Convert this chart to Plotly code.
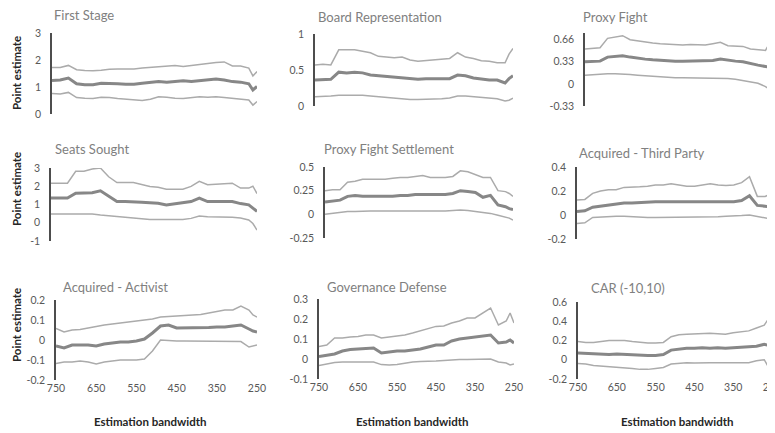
import plotly.graph_objects as go

bandwidth = [750, 730, 710, 690, 670, 650, 630, 610, 590, 570, 550, 530, 510, 490,
             470, 450, 430, 410, 390, 370, 350, 330, 310, 290, 270, 260, 250]
x_ticks = [750, 650, 550, 450, 350, 250]

# First Stage
fs_hi = [1.72, 1.72, 1.80, 1.64, 1.61, 1.60, 1.62, 1.66, 1.67, 1.67, 1.67, 1.70, 1.72, 1.76,
         1.76, 1.80, 1.76, 1.80, 1.82, 1.86, 1.91, 1.93, 1.78, 1.78, 1.70, 1.41, 1.57]
fs_est = [1.24, 1.26, 1.33, 1.12, 1.08, 1.08, 1.14, 1.14, 1.12, 1.10, 1.10, 1.14, 1.16, 1.20,
          1.18, 1.20, 1.23, 1.20, 1.24, 1.26, 1.30, 1.26, 1.20, 1.18, 1.12, 0.89, 1.02]
fs_lo = [0.76, 0.74, 0.80, 0.61, 0.58, 0.57, 0.62, 0.61, 0.57, 0.55, 0.52, 0.50, 0.55, 0.64,
         0.62, 0.58, 0.57, 0.61, 0.64, 0.62, 0.64, 0.61, 0.58, 0.55, 0.52, 0.33, 0.46]

# Board Representation
br_hi = [0.57, 0.58, 0.57, 0.78, 0.78, 0.78, 0.76, 0.74, 0.69, 0.68, 0.67, 0.68, 0.64, 0.62,
         0.63, 0.64, 0.65, 0.66, 0.74, 0.68, 0.66, 0.63, 0.62, 0.60, 0.60, 0.72, 0.80]
br_est = [0.36, 0.36, 0.37, 0.47, 0.46, 0.47, 0.46, 0.43, 0.42, 0.41, 0.40, 0.39, 0.38, 0.37,
          0.38, 0.38, 0.37, 0.38, 0.43, 0.42, 0.39, 0.37, 0.36, 0.36, 0.32, 0.38, 0.42]
br_lo = [0.13, 0.13, 0.14, 0.15, 0.15, 0.16, 0.15, 0.14, 0.13, 0.12, 0.10, 0.09, 0.09, 0.09,
         0.09, 0.10, 0.10, 0.11, 0.14, 0.14, 0.13, 0.11, 0.10, 0.10, 0.07, 0.08, 0.11]

# Proxy Fight
pf_hi = [0.52, 0.53, 0.54, 0.68, 0.70, 0.72, 0.66, 0.64, 0.62, 0.61, 0.60, 0.59, 0.58, 0.58,
         0.59, 0.59, 0.58, 0.60, 0.62, 0.57, 0.56, 0.56, 0.52, 0.51, 0.50, 0.60, 0.50]
pf_est = [0.33, 0.33, 0.34, 0.40, 0.41, 0.42, 0.40, 0.38, 0.37, 0.36, 0.35, 0.345, 0.34, 0.34,
          0.34, 0.34, 0.34, 0.35, 0.37, 0.35, 0.34, 0.33, 0.30, 0.28, 0.26, 0.25, 0.20]
pf_lo = [0.13, 0.14, 0.15, 0.15, 0.15, 0.15, 0.14, 0.13, 0.12, 0.11, 0.10, 0.09, 0.09, 0.09,
         0.09, 0.09, 0.09, 0.09, 0.09, 0.08, 0.07, 0.05, 0.03, 0.01, -0.04, -0.08, -0.17]

# Seats Sought
ss_hi = [2.17, 2.17, 2.17, 2.82, 2.82, 2.95, 3.00, 2.52, 2.20, 2.20, 2.20, 2.10, 1.99, 1.95,
         1.84, 1.84, 1.84, 1.99, 2.27, 2.08, 2.10, 2.15, 2.17, 1.90, 1.90, 2.00, 1.60]
ss_est = [1.35, 1.35, 1.35, 1.62, 1.62, 1.65, 1.75, 1.44, 1.16, 1.16, 1.16, 1.12, 1.10, 1.07,
          0.98, 1.05, 1.10, 1.16, 1.35, 1.16, 1.16, 1.16, 1.16, 1.05, 0.98, 0.80, 0.62]
ss_lo = [0.48, 0.48, 0.48, 0.47, 0.48, 0.48, 0.42, 0.38, 0.30, 0.26, 0.22, 0.20, 0.18, 0.18,
         0.17, 0.18, 0.18, 0.24, 0.37, 0.33, 0.33, 0.33, 0.30, 0.26, 0.15, -0.04, -0.40]

# Proxy Fight Settlement
pfs_hi = [0.25, 0.26, 0.26, 0.34, 0.35, 0.37, 0.37, 0.37, 0.37, 0.38, 0.39, 0.39, 0.40, 0.41,
          0.39, 0.39, 0.39, 0.40, 0.46, 0.45, 0.42, 0.39, 0.39, 0.25, 0.24, 0.22, 0.19]
pfs_est = [0.13, 0.14, 0.15, 0.19, 0.20, 0.19, 0.19, 0.19, 0.19, 0.19, 0.20, 0.20, 0.21, 0.21,
           0.21, 0.21, 0.21, 0.22, 0.25, 0.24, 0.23, 0.18, 0.20, 0.10, 0.08, 0.06, 0.05]
pfs_lo = [0.00, 0.01, 0.02, 0.03, 0.03, 0.035, 0.035, 0.035, 0.035, 0.03, 0.03, 0.03, 0.035, 0.035,
          0.035, 0.035, 0.035, 0.04, 0.045, 0.04, 0.03, 0.02, 0.01, -0.01, -0.03, -0.04, -0.06]

# Acquired - Third Party
tp_hi = [0.125, 0.13, 0.18, 0.20, 0.21, 0.21, 0.23, 0.23, 0.235, 0.24, 0.25, 0.25, 0.26, 0.25,
         0.24, 0.24, 0.25, 0.26, 0.25, 0.245, 0.25, 0.27, 0.32, 0.155, 0.155, 0.17, 0.13]
tp_est = [0.03, 0.035, 0.065, 0.075, 0.085, 0.09, 0.10, 0.10, 0.105, 0.11, 0.11, 0.11, 0.11, 0.11,
          0.105, 0.105, 0.11, 0.11, 0.11, 0.11, 0.11, 0.12, 0.16, 0.08, 0.075, 0.07, 0.055]
tp_lo = [-0.07, -0.065, -0.02, -0.015, -0.01, -0.01, -0.01, -0.015, -0.02, -0.02, -0.02, -0.02, -0.02, -0.02,
         -0.02, -0.02, -0.02, -0.015, -0.015, -0.01, -0.01, -0.005, 0.0, -0.01, -0.02, -0.03, -0.04]

# Acquired - Activist
aa_hi = [0.058, 0.04, 0.05, 0.052, 0.06, 0.068, 0.075, 0.08, 0.085, 0.09, 0.095, 0.10, 0.105, 0.115,
         0.117, 0.118, 0.12, 0.125, 0.128, 0.135, 0.14, 0.15, 0.15, 0.17, 0.15, 0.125, 0.115]
aa_est = [-0.03, -0.04, -0.025, -0.025, -0.025, -0.03, -0.02, -0.015, -0.01, -0.01, -0.005, 0.005, 0.035, 0.07,
          0.075, 0.06, 0.06, 0.06, 0.06, 0.062, 0.065, 0.065, 0.07, 0.075, 0.055, 0.045, 0.04]
aa_lo = [-0.117, -0.11, -0.11, -0.105, -0.11, -0.12, -0.11, -0.105, -0.10, -0.10, -0.10, -0.095, -0.055, 0.0,
         -0.003, -0.005, -0.005, -0.005, -0.005, -0.005, -0.005, -0.005, -0.005, -0.008, -0.035, -0.03, -0.025]

# Governance Defense
gd_hi = [0.063, 0.07, 0.105, 0.105, 0.11, 0.113, 0.12, 0.12, 0.105, 0.11, 0.115, 0.12, 0.13, 0.14,
         0.15, 0.163, 0.165, 0.18, 0.19, 0.205, 0.205, 0.23, 0.255, 0.17, 0.19, 0.23, 0.18]
gd_est = [0.013, 0.02, 0.025, 0.04, 0.047, 0.05, 0.052, 0.055, 0.03, 0.035, 0.04, 0.04, 0.045, 0.05,
          0.06, 0.07, 0.07, 0.09, 0.10, 0.105, 0.11, 0.115, 0.12, 0.08, 0.085, 0.095, 0.08]
gd_lo = [-0.032, -0.025, -0.018, -0.015, -0.015, -0.015, -0.015, -0.015, -0.028, -0.03, -0.028, -0.02, -0.015, -0.012,
         -0.012, -0.01, -0.008, -0.005, -0.003, -0.003, -0.003, -0.003, 0.0, -0.015, -0.02, -0.03, -0.025]

# CAR (-10,10)
car_hi = [0.19, 0.18, 0.18, 0.19, 0.20, 0.20, 0.20, 0.19, 0.18, 0.175, 0.175, 0.18, 0.24, 0.26,
          0.265, 0.27, 0.275, 0.275, 0.27, 0.265, 0.28, 0.29, 0.30, 0.33, 0.36, 0.42, 0.32]
car_est = [0.07, 0.065, 0.06, 0.06, 0.055, 0.06, 0.055, 0.05, 0.045, 0.045, 0.045, 0.055, 0.10, 0.11,
           0.12, 0.12, 0.125, 0.12, 0.125, 0.12, 0.125, 0.13, 0.14, 0.14, 0.16, 0.15, 0.08]
car_lo = [-0.04, -0.045, -0.06, -0.065, -0.07, -0.075, -0.085, -0.09, -0.10, -0.10, -0.09, -0.08, -0.045, -0.035,
          -0.03, -0.035, -0.03, -0.03, -0.03, -0.03, -0.03, -0.035, -0.03, -0.01, 0.0, -0.07, -0.17]

titles = ["First Stage", "Board Representation", "Proxy Fight",
          "Seats Sought", "Proxy Fight Settlement", "Acquired - Third Party",
          "Acquired - Activist", "Governance Defense", "CAR (-10,10)"]
series = [(fs_lo, fs_est, fs_hi), (br_lo, br_est, br_hi), (pf_lo, pf_est, pf_hi),
          (ss_lo, ss_est, ss_hi), (pfs_lo, pfs_est, pfs_hi), (tp_lo, tp_est, tp_hi),
          (aa_lo, aa_est, aa_hi), (gd_lo, gd_est, gd_hi), (car_lo, car_est, car_hi)]
y_ticks = [[0, 1, 2, 3], [0, 0.5, 1], [-0.33, 0, 0.33, 0.66],
           [-1, 0, 1, 2, 3], [-0.25, 0, 0.25, 0.5], [-0.2, 0, 0.2, 0.4],
           [-0.2, -0.1, 0, 0.1, 0.2], [-0.1, 0, 0.1, 0.2, 0.3], [-0.2, 0, 0.2, 0.4, 0.6]]
y_ticktext = [["0", "1", "2", "3"], ["0", "0.5", "1"], ["-0.33", "0", "0.33", "0.66"],
              ["-1", "0", "1", "2", "3"], ["-0.25", "0", "0.25", "0.5"], ["-0.2", "0", "0.2", "0.4"],
              ["-0.2", "-0.1", "0", "0.1", "0.2"], ["-0.1", "0", "0.1", "0.2", "0.3"],
              ["-0.2", "0", "0.2", "0.4", "0.6"]]
y_ranges = [[0, 3], [0, 1], [-0.33, 0.76],
            [-1, 3], [-0.25, 0.5], [-0.2, 0.4],
            [-0.2, 0.2], [-0.1, 0.3], [-0.2, 0.6]]

# The page places the figure 8px in from the window's top-left corner,
# so the figure is sized to the remaining area and positions are shifted.
OFF = 8
W, H = 775 - OFF, 433 - OFF


def px(x):
    return (x - OFF) / W


def py(y):
    return 1 - (y - OFF) / H


# target window-pixel boxes of each plot area: (left, right, top, bottom)
boxes = [(52, 257, 33, 114), (315, 513, 34, 106), (585, 773, 33, 106),
         (51, 257, 168, 241), (325, 513, 167, 238), (577, 773, 167, 239),
         (56, 257, 300, 380), (319, 514, 299, 379), (578, 772, 302, 379)]
# title positions (left x, center y)
title_pos = [(52, 15), (316, 17), (581, 17),
             (53, 149), (322, 149), (577, 153),
             (61, 287), (325, 287), (589, 288)]

FONT = "Lato"
HI_COLOR = "#ababab"
EST_COLOR = "#878787"

fig = go.Figure()
layout = dict(
    width=W, height=H, margin=dict(l=0, r=0, t=0, b=0, pad=0, autoexpand=False),
    paper_bgcolor="white", plot_bgcolor="white", showlegend=False,
    font=dict(family=FONT, color="#595959"),
)
annotations = []
for i in range(9):
    n = i + 1
    xa = "x" if n == 1 else f"x{n}"
    ya = "y" if n == 1 else f"y{n}"
    lo, est, hi = series[i]
    for vals, col, wid in [(hi, HI_COLOR, 1.5), (lo, HI_COLOR, 1.5), (est, EST_COLOR, 3)]:
        fig.add_trace(go.Scatter(x=bandwidth, y=vals, mode="lines", xaxis=xa, yaxis=ya,
                                 line=dict(color=col, width=wid), hoverinfo="skip"))
    l, r, t, b = boxes[i]
    bottom_row = i >= 6
    layout["xaxis" if n == 1 else f"xaxis{n}"] = dict(
        domain=[px(l), min(px(r), 1.0)], range=[750, 250], anchor=ya, automargin=False,
        showgrid=False, zeroline=False, showline=False,
        tickmode="array", tickvals=x_ticks, showticklabels=bottom_row,
        ticklabeloverflow="allow",
        tickfont=dict(size=10.5, color="#595959", family=FONT),
    )
    layout["yaxis" if n == 1 else f"yaxis{n}"] = dict(
        domain=[py(b), py(t)], range=y_ranges[i], anchor=xa, automargin=False,
        showgrid=False, zeroline=False, showline=True, linecolor="#4d4d4d", linewidth=1.5,
        tickmode="array", tickvals=y_ticks[i], ticktext=y_ticktext[i],
        tickfont=dict(size=10.5, color="#595959", family=FONT), ticklabelstandoff=7,
    )
    tx, ty = title_pos[i]
    annotations.append(dict(text=titles[i], x=px(tx), y=py(ty), xref="paper", yref="paper",
                            xanchor="left", yanchor="middle", showarrow=False,
                            font=dict(size=13, color="#808080", family=FONT)))

for cy in [73, 189, 325]:
    annotations.append(dict(text="<b>Point estimate</b>", x=px(16), y=py(cy), xref="paper",
                            yref="paper", xanchor="center", yanchor="middle", textangle=-90,
                            showarrow=False, font=dict(size=11.5, color="#262626", family=FONT)))
for cx in [150, 412, 677]:
    annotations.append(dict(text="<b>Estimation bandwidth</b>", x=px(cx), y=py(421),
                            xref="paper", yref="paper", xanchor="center", yanchor="middle",
                            showarrow=False, font=dict(size=11.5, color="#262626", family=FONT)))

layout["annotations"] = annotations
fig.update_layout(**layout)
fig.write_html("out.html")
